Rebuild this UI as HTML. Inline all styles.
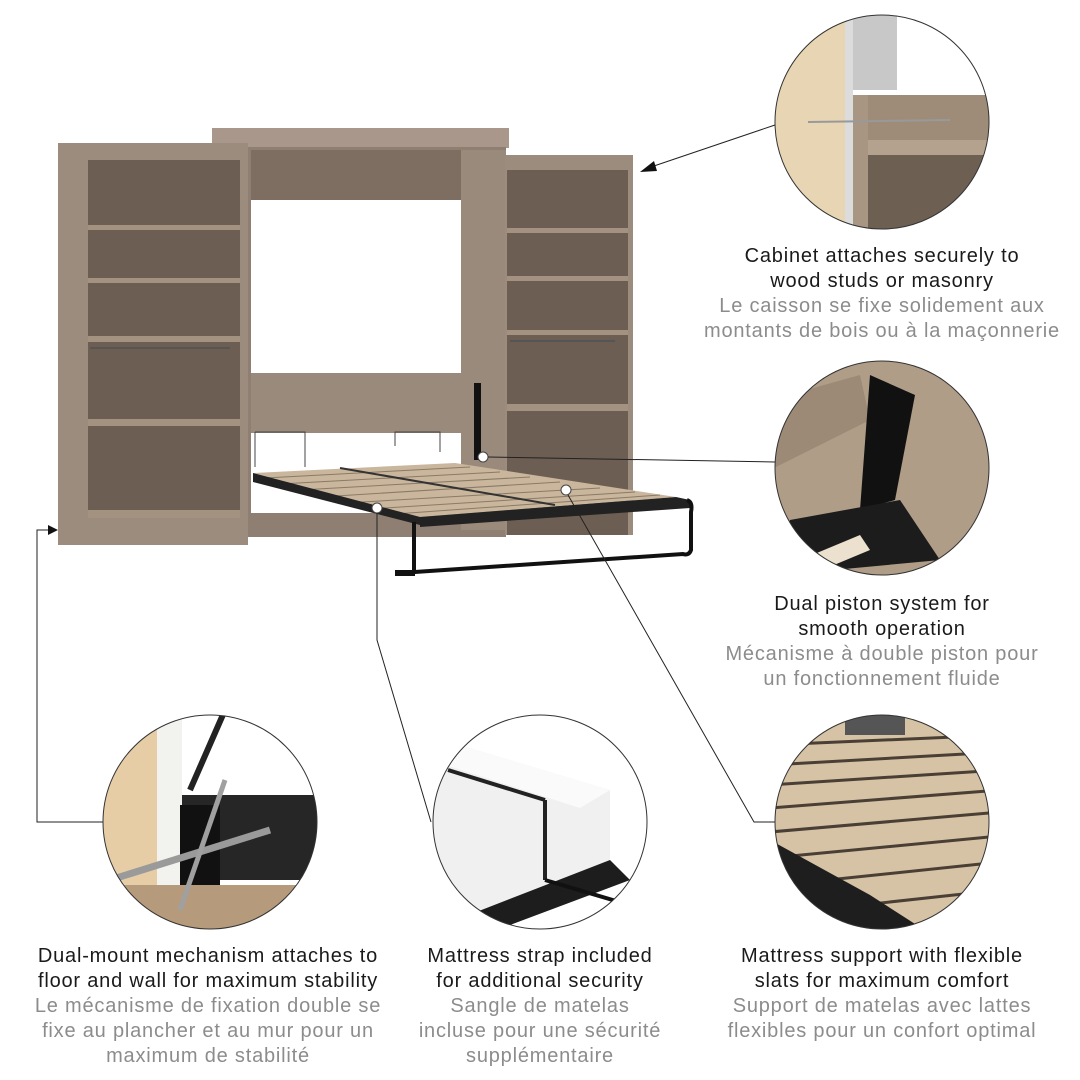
<!DOCTYPE html>
<html><head><meta charset="utf-8"><style>
html,body{margin:0;padding:0;background:#fff}
svg{display:block}
text{font-family:"Liberation Sans",sans-serif;font-size:20px;letter-spacing:0.8px;text-anchor:middle}
.b{fill:#1a1a1a}.g{fill:#8c8c8c}
</style></head><body>
<svg width="1080" height="1080" viewBox="0 0 1080 1080" xmlns="http://www.w3.org/2000/svg">
<defs>
<clipPath id="c1"><circle cx="882" cy="122" r="107"/></clipPath>
<clipPath id="c2"><circle cx="882" cy="468" r="107"/></clipPath>
<clipPath id="c3"><circle cx="210" cy="822" r="107"/></clipPath>
<clipPath id="c4"><circle cx="540" cy="822" r="107"/></clipPath>
<clipPath id="c5"><circle cx="882" cy="822" r="107"/></clipPath>
</defs>
<rect width="1080" height="1080" fill="#fff"/>

<rect x="212" y="128" width="297" height="20" fill="#a8978a"/>
<rect x="248" y="147" width="258" height="390" fill="#8f7f72"/>
<rect x="251" y="150" width="210" height="50" fill="#7e6e62"/>
<rect x="251" y="200" width="210" height="173" fill="#fff"/>
<rect x="251" y="373" width="215" height="60" fill="#9a8a7c"/>
<rect x="251" y="433" width="210" height="80" fill="#fff"/>
<rect x="461" y="150" width="45" height="380" fill="#9a8a7c"/>

<rect x="58" y="143" width="190" height="402" fill="#9c8c7e"/>
<rect x="88" y="160" width="152" height="353" fill="#6d5e53"/>
<g fill="#a3927f">
<rect x="88" y="225" width="152" height="5"/>
<rect x="88" y="278" width="152" height="5"/>
<rect x="88" y="336" width="152" height="6"/>
<rect x="88" y="419" width="152" height="7"/>
<rect x="88" y="510" width="152" height="8"/>
</g>
<rect x="90" y="347" width="140" height="2" fill="#555"/>

<rect x="505" y="155" width="128" height="380" fill="#9c8c7e"/>
<rect x="507" y="170" width="121" height="365" fill="#6d5e53"/>
<g fill="#a3927f">
<rect x="507" y="228" width="121" height="5"/>
<rect x="507" y="276" width="121" height="5"/>
<rect x="507" y="330" width="121" height="5"/>
<rect x="507" y="404" width="121" height="7"/>
</g>
<rect x="510" y="340" width="105" height="2" fill="#555"/>

<rect x="474" y="383" width="7" height="77" fill="#111"/>
<path d="M255 432 v35 M255 432 h50 v35 M395 446 v-14 h45 v20" stroke="#444" fill="none" stroke-width="1"/>
<polygon points="253,473 455,463 676,497 420,517" fill="#c9b69c"/>
<g stroke="#8a7a66" stroke-width="1">
<line x1="265" y1="478" x2="470" y2="467"/><line x1="280" y1="484" x2="500" y2="472"/>
<line x1="300" y1="490" x2="530" y2="477"/><line x1="320" y1="497" x2="560" y2="482"/>
<line x1="345" y1="503" x2="600" y2="488"/><line x1="370" y1="509" x2="635" y2="492"/>
<line x1="395" y1="514" x2="660" y2="495"/>
</g>
<line x1="340" y1="468" x2="555" y2="505" stroke="#333" stroke-width="2"/>
<polygon points="253,473 420,517 420,525 253,482" fill="#222"/>
<polygon points="420,517 676,497 690,500 690,508 420,527" fill="#222"/>
<path d="M687 500 q6 2 4 12 v38 q-2 6 -8 4 L400 573 M414 522 v48" stroke="#111" stroke-width="4" fill="none"/>
<rect x="395" y="570" width="20" height="6" fill="#111"/>

<g fill="#fff" stroke="#444" stroke-width="1">
<circle cx="483" cy="457" r="5"/><circle cx="566" cy="490" r="5"/><circle cx="377" cy="508" r="5"/>
</g>

<g stroke="#222" stroke-width="1" fill="none">
<line x1="648" y1="168" x2="775" y2="125"/>
<line x1="488" y1="457" x2="775" y2="462"/>
<path d="M377 513 V640 L431 822"/>
<path d="M568 495 L754 822 H775"/>
<path d="M50 530 H37 V822 H103"/>
</g>
<polygon points="640,172 654,161 657,171" fill="#111"/>
<polygon points="58,530 48,525 48,535" fill="#111"/>

<g clip-path="url(#c1)">
<rect x="770" y="0" width="230" height="240" fill="#fff"/>
<rect x="770" y="0" width="75" height="240" fill="#e8d5b3"/>
<rect x="845" y="0" width="8" height="240" fill="#dcdcdc"/>
<rect x="853" y="0" width="44" height="90" fill="#c8c8c8"/>
<rect x="853" y="95" width="15" height="145" fill="#a89682"/>
<rect x="868" y="95" width="130" height="45" fill="#9e8c78"/>
<rect x="868" y="140" width="130" height="15" fill="#b4a28e"/>
<rect x="868" y="155" width="130" height="85" fill="#6e5f53"/>
<line x1="808" y1="122" x2="950" y2="120" stroke="#999" stroke-width="2"/>
</g>
<circle cx="882" cy="122" r="107" fill="none" stroke="#333" stroke-width="1"/>

<g clip-path="url(#c2)">
<rect x="770" y="355" width="230" height="230" fill="#b09d88"/>
<polygon points="770,400 860,375 870,420 770,470" fill="#9d8a76"/>
<polygon points="870,375 915,395 895,500 860,510" fill="#111"/>
<polygon points="790,520 900,500 940,560 780,575" fill="#1c1c1c"/>
<polygon points="800,560 860,535 870,550 810,575" fill="#ece1cf"/>
</g>
<circle cx="882" cy="468" r="107" fill="none" stroke="#333" stroke-width="1"/>

<g clip-path="url(#c3)">
<rect x="100" y="710" width="230" height="230" fill="#fff"/>
<rect x="100" y="710" width="57" height="175" fill="#e6cda6"/>
<rect x="157" y="710" width="25" height="175" fill="#f2f2ef"/>
<rect x="100" y="885" width="230" height="50" fill="#b69a7c"/>
<rect x="182" y="795" width="140" height="85" fill="#262626"/>
<rect x="180" y="805" width="40" height="80" fill="#111"/>
<line x1="110" y1="880" x2="270" y2="830" stroke="#9a9a9a" stroke-width="7"/>
<line x1="180" y1="910" x2="225" y2="780" stroke="#a0a0a0" stroke-width="5"/>
<line x1="190" y1="790" x2="225" y2="710" stroke="#222" stroke-width="6"/>
</g>
<circle cx="210" cy="822" r="107" fill="none" stroke="#333" stroke-width="1"/>

<g clip-path="url(#c4)">
<rect x="430" y="710" width="230" height="230" fill="#fff"/>
<polygon points="430,760 460,745 610,790 610,860 440,940 430,940" fill="#f0f0f0"/>
<polygon points="430,760 460,745 610,790 580,808" fill="#fafafa"/>
<line x1="448" y1="770" x2="545" y2="800" stroke="#222" stroke-width="4"/>
<line x1="545" y1="800" x2="545" y2="880" stroke="#222" stroke-width="4"/>
<polygon points="430,930 610,860 630,880 470,940" fill="#1d1d1d"/>
<path d="M630 880 q8 5 5 20 l-2 6 L545 880" stroke="#111" stroke-width="4" fill="none"/>
</g>
<circle cx="540" cy="822" r="107" fill="none" stroke="#333" stroke-width="1"/>

<g clip-path="url(#c5)">
<rect x="770" y="710" width="230" height="230" fill="#d6c3a6"/>
<g stroke="#4a3f35" stroke-width="3">
<line x1="770" y1="745" x2="1000" y2="735"/><line x1="770" y1="765" x2="1000" y2="752"/>
<line x1="770" y1="785" x2="1000" y2="770"/><line x1="770" y1="808" x2="1000" y2="790"/>
<line x1="770" y1="832" x2="1000" y2="812"/><line x1="770" y1="858" x2="1000" y2="836"/>
<line x1="770" y1="886" x2="1000" y2="862"/><line x1="770" y1="915" x2="1000" y2="890"/>
</g>
<polygon points="770,840 870,895 940,940 770,940" fill="#1e1e1e"/>
<rect x="845" y="710" width="60" height="25" fill="#555"/>
</g>
<circle cx="882" cy="822" r="107" fill="none" stroke="#333" stroke-width="1"/>

<text x="882" y="262" class="b">Cabinet attaches securely to</text>
<text x="882" y="287" class="b">wood studs or masonry</text>
<text x="882" y="312" class="g">Le caisson se fixe solidement aux</text>
<text x="882" y="337" class="g">montants de bois ou à la maçonnerie</text>

<text x="882" y="610" class="b">Dual piston system for</text>
<text x="882" y="635" class="b">smooth operation</text>
<text x="882" y="660" class="g">Mécanisme à double piston pour</text>
<text x="882" y="685" class="g">un fonctionnement fluide</text>

<text x="208" y="962" class="b">Dual-mount mechanism attaches to</text>
<text x="208" y="987" class="b">floor and wall for maximum stability</text>
<text x="208" y="1012" class="g">Le mécanisme de fixation double se</text>
<text x="208" y="1037" class="g">fixe au plancher et au mur pour un</text>
<text x="208" y="1062" class="g">maximum de stabilité</text>

<text x="540" y="962" class="b">Mattress strap included</text>
<text x="540" y="987" class="b">for additional security</text>
<text x="540" y="1012" class="g">Sangle de matelas</text>
<text x="540" y="1037" class="g">incluse pour une sécurité</text>
<text x="540" y="1062" class="g">supplémentaire</text>

<text x="882" y="962" class="b">Mattress support with flexible</text>
<text x="882" y="987" class="b">slats for maximum comfort</text>
<text x="882" y="1012" class="g">Support de matelas avec lattes</text>
<text x="882" y="1037" class="g">flexibles pour un confort optimal</text>
</svg>
</body></html>
